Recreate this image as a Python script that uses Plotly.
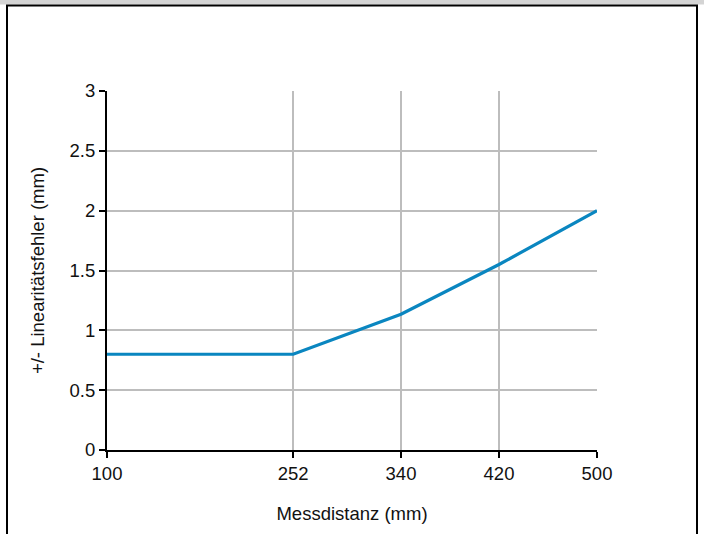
import plotly.graph_objects as go

distance_mm = [100, 252, 340, 420, 500]
linearity_error_mm = [0.8, 0.8, 1.135, 1.55, 2.0]
x_ticks = [100, 252, 340, 420, 500]
y_ticks = [0, 0.5, 1, 1.5, 2, 2.5, 3]
y_tick_labels = ["0", "0.5", "1", "1.5", "2", "2.5", "3"]

L, R, T, B = 107, 107, 91, 84
W, H = 704, 534
pw, ph = W - L - R, H - T - B

def px(x):
    return (x - L) / pw

def py(y):
    return (H - B - y) / ph

fig = go.Figure()
fig.add_trace(go.Scatter(
    x=distance_mm, y=linearity_error_mm, mode="lines",
    line=dict(color="#0a86c0", width=3.2), hoverinfo="skip", showlegend=False,
))

font = dict(family="Liberation Sans, Arial, sans-serif", size=18.5, color="#111111")

fig.update_layout(
    width=W, height=H,
    margin=dict(l=L, r=R, t=T, b=B),
    paper_bgcolor="#d4d4d4", plot_bgcolor="white",
    font=font,
    xaxis=dict(
        range=[100, 500], tickmode="array", tickvals=x_ticks,
        ticktext=[str(v) for v in x_ticks],
        showgrid=True, gridcolor="#bdbdbd", gridwidth=2,
        showline=True, linecolor="black", linewidth=2,
        ticks="outside", ticklen=6, tickwidth=2, tickcolor="black",
        zeroline=False,
        title=dict(text="Messdistanz (mm)", standoff=24, font=font),
    ),
    yaxis=dict(
        range=[0, 3], tickmode="array", tickvals=y_ticks, ticktext=y_tick_labels,
        showgrid=True, gridcolor="#bdbdbd", gridwidth=2,
        showline=True, linecolor="black", linewidth=2,
        ticks="outside", ticklen=6, tickwidth=2, tickcolor="black",
        zeroline=False,
        title=dict(text="+/- Linearitätsfehler (mm)", standoff=20, font=font),
    ),
    shapes=[
        dict(type="rect", xref="paper", yref="paper",
             x0=px(-5), x1=px(W + 5), y0=py(H + 10), y1=py(4.5),
             fillcolor="white", line=dict(width=0), layer="below"),
        dict(type="rect", xref="paper", yref="paper",
             x0=px(7), x1=px(697), y0=py(H + 10), y1=py(5.5),
             fillcolor="rgba(0,0,0,0)", line=dict(color="black", width=2)),
    ],
)

fig.write_html(
    "out.html",
    config={"displayModeBar": False},
    post_script="document.body.style.margin='0';document.body.style.overflow='hidden';",
)
